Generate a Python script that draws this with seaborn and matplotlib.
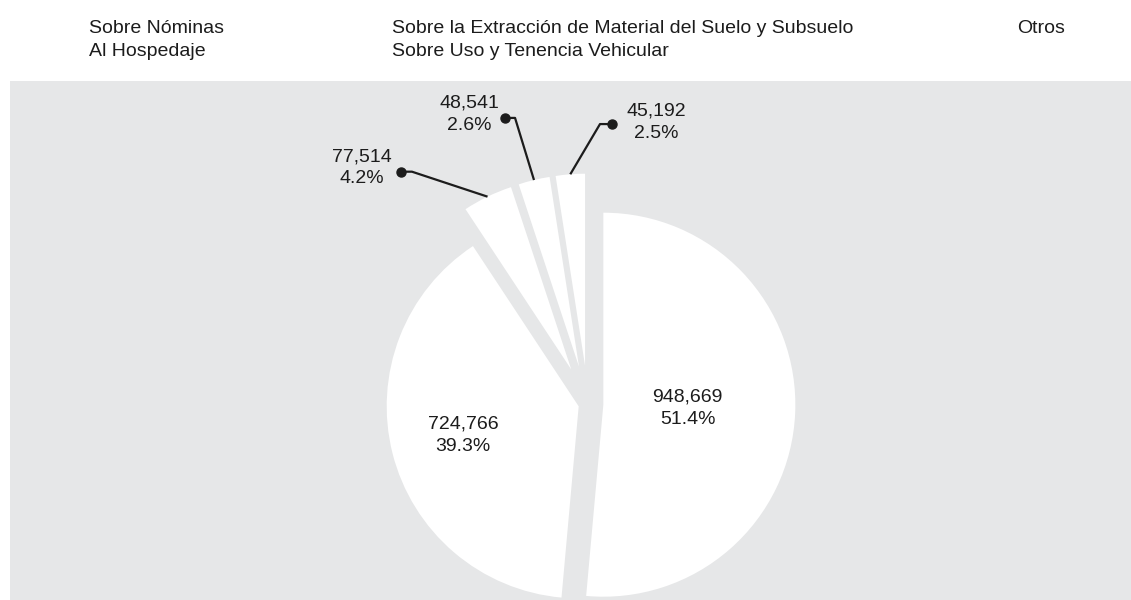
"""Pie chart of state tax revenue by concept, white wedges on a grey panel"""
import numpy as np
import matplotlib
matplotlib.use('Agg')
import matplotlib.pyplot as plt
import seaborn as sns
from matplotlib import font_manager

# data
categories = ['Sobre Nóminas', 'Al Hospedaje',
              'Sobre la Extracción de Material del Suelo y Subsuelo',
              'Sobre Uso y Tenencia Vehicular', 'Otros']
values = [948669, 724766, 77514, 48541, 45192]
percents = [51.4, 39.3, 4.2, 2.6, 2.5]  # as printed in the source
explode = [0.08, 0.05, 0.2, 0.2, 0.2]

# layout of labels, in pie-radius units (pie centre = 0, 0)
inside_dist = {0: 0.44, 1: 0.62}
outside_text = {2: (-1.18, 1.23), 3: (-0.62, 1.51), 4: (0.354, 1.469)}
outside_dot = {2: (-0.974, 1.21), 3: (-0.432, 1.49), 4: (0.125, 1.458)}
outside_elbow = {2: (-0.917, 1.21), 3: (-0.38, 1.49), 4: (0.0625, 1.458)}

# legend text positions in pixels (x of each column, baseline of each row)
legend_cols_px = [89, 392, 1017]
legend_rows_px = [33, 56]

W, H = 1131, 600
PANEL = '#E6E7E8'
INK = '#1c1c1c'

sns.set_theme(style='white')
installed = {f.name for f in font_manager.fontManager.ttflist}
if 'Liberation Sans Narrow' in installed:
    plt.rcParams['font.family'] = ['Liberation Sans Narrow', 'DejaVu Sans']
    FS = 16.5
    LS = 1.2
else:
    plt.rcParams['font.family'] = ['Liberation Sans', 'DejaVu Sans']
    FS = 14
    LS = 1.4

fig = plt.figure(figsize=(W / 100, H / 100), dpi=100)
fig.patch.set_facecolor('white')
ax = fig.add_axes([10 / W, 0, (W - 10) / W, 519 / H])

wedges, _ = ax.pie(values, explode=explode, colors=['white'] * len(values),
                   startangle=90, counterclock=False, radius=1,
                   wedgeprops=dict(linewidth=0))

# pie centre at (588, 404) px, radius 192 px
cx, cy, rp = 588, 404, 192
ax.set_xlim((10 - cx) / rp, (W - cx) / rp)
ax.set_ylim(-(H - cy) / rp, (cy - 81) / rp)
ax.set_aspect('auto')
ax.set_frame_on(True)
ax.set_facecolor(PANEL)
for s in ax.spines.values():
    s.set_visible(False)
ax.set_xticks([])
ax.set_yticks([])

for i, (w, v, p) in enumerate(zip(wedges, values, percents)):
    label = f'{v:,}\n{p:.1f}%'
    mid = np.deg2rad((w.theta1 + w.theta2) / 2)
    wx, wy = w.center
    if i in inside_dist:
        d = inside_dist[i] * w.r
        ax.text(wx + d * np.cos(mid), wy + d * np.sin(mid), label,
                ha='center', va='center', fontsize=FS, color=INK,
                linespacing=LS)
    else:
        ex, ey = wx + w.r * np.cos(mid), wy + w.r * np.sin(mid)
        bx, by = outside_elbow[i]
        dx, dy = outside_dot[i]
        ax.plot([ex, bx, dx], [ey, by, dy], color=INK, lw=1.6,
                solid_capstyle='butt', clip_on=False)
        ax.plot([dx], [dy], 'o', color=INK, ms=6.5)
        tx, ty = outside_text[i]
        ax.text(tx, ty, label, ha='center', va='center', fontsize=FS,
                color=INK, linespacing=LS)

# legend (handles are white, so only the names show)
for i, name in enumerate(categories):
    col, row = divmod(i, 2)
    fig.text(legend_cols_px[col] / W, 1 - legend_rows_px[row] / H, name,
             ha='left', va='baseline', fontsize=FS, color=INK)

fig.savefig('out.png', dpi=100, facecolor='white')
plt.close(fig)
